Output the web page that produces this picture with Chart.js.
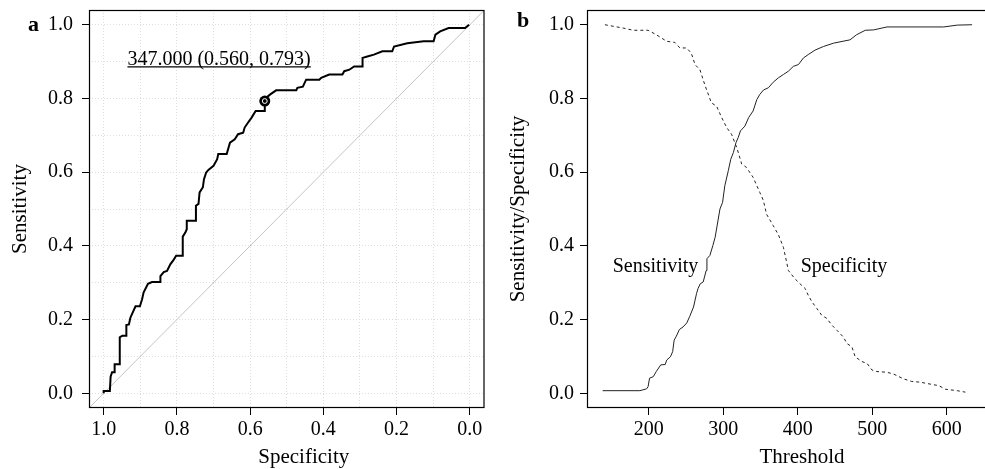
<!DOCTYPE html>
<html>
<head>
<meta charset="utf-8">
<script src="https://cdn.jsdelivr.net/npm/chart.js@4.4.1/dist/chart.umd.min.js"></script>
<style>
  html, body { margin: 0; padding: 0; background: #fff; overflow: hidden; }
  #wrap { position: relative; width: 985px; height: 469px; overflow: hidden; }
  canvas { position: absolute; top: 0; }
  #chartA { left: 0; }
  #chartB { left: 490px; }
</style>
</head>
<body>
<div id="wrap">
  <canvas id="chartA" width="490" height="469"></canvas>
  <canvas id="chartB" width="497" height="469"></canvas>
</div>
<script>
// panel a: ROC curve (stair corners)
const rocSpec = [1.0, 1.0, 0.983, 0.981, 0.977, 0.970, 0.970, 0.956, 0.956, 0.949, 0.938, 0.938, 0.931, 0.927, 0.913, 0.901,
  0.895, 0.891, 0.879, 0.868, 0.845, 0.845, 0.836, 0.827, 0.818, 0.809, 0.802, 0.786, 0.784, 0.784, 0.777, 0.773,
  0.773, 0.750, 0.748, 0.741, 0.738, 0.729, 0.726, 0.720, 0.714, 0.700, 0.690, 0.687, 0.664, 0.655, 0.642, 0.633,
  0.619, 0.615, 0.606, 0.596, 0.585, 0.560, 0.560, 0.556, 0.545, 0.529, 0.474, 0.471, 0.456, 0.447, 0.411, 0.406,
  0.384, 0.348, 0.343, 0.329, 0.316, 0.293, 0.293, 0.280, 0.262, 0.239, 0.212, 0.207, 0.171, 0.126, 0.099, 0.094,
  0.081, 0.058, 0.013, 0.002, 0.0];
const rocSens = [0.0, 0.006, 0.006, 0.045, 0.057, 0.057, 0.079, 0.079, 0.152, 0.156, 0.156, 0.185, 0.187, 0.205, 0.236, 0.236,
  0.255, 0.273, 0.297, 0.302, 0.302, 0.318, 0.329, 0.332, 0.350, 0.362, 0.373, 0.373, 0.391, 0.425, 0.436, 0.445,
  0.468, 0.468, 0.509, 0.514, 0.545, 0.559, 0.581, 0.599, 0.606, 0.617, 0.635, 0.649, 0.649, 0.680, 0.689, 0.703,
  0.707, 0.721, 0.734, 0.748, 0.766, 0.766, 0.793, 0.802, 0.811, 0.822, 0.822, 0.829, 0.832, 0.851, 0.851, 0.856,
  0.865, 0.865, 0.874, 0.878, 0.887, 0.887, 0.910, 0.914, 0.919, 0.928, 0.928, 0.941, 0.950, 0.955, 0.955, 0.973,
  0.982, 0.991, 0.991, 1.0, 1.0];
const bestThreshold = 347;
const bestSpec = 0.560;
const bestSens = 0.793;
const chanceLine = [1.04, -0.04];
const rocGrid = [0, 0.1, 0.2, 0.3, 0.4, 0.5, 0.6, 0.7, 0.8, 0.9, 1.0];
const rocLabels = [0, 0.2, 0.4, 0.6, 0.8, 1.0];

// panel b: sensitivity and specificity against threshold
const sensThr = [138, 188, 197, 199, 201, 206, 210, 216, 222, 224, 229, 232, 234, 237, 241, 246, 251, 255, 260, 264,
  266, 269, 273, 277, 278, 282, 286, 289, 295.5, 299, 302, 306.7, 310, 313.5, 317, 320, 323, 329, 334, 340,
  345, 349, 354, 360.5, 367, 374, 380.7, 387.4, 394, 400.9, 407.6, 414, 423, 434.5, 448, 470, 479, 490.6, 501.8, 519.7,
  596, 614, 634];
const sensVals = [0.007, 0.007, 0.012, 0.018, 0.041, 0.045, 0.059, 0.077, 0.078, 0.09, 0.099, 0.113, 0.144, 0.155, 0.173, 0.18, 0.191, 0.209, 0.234, 0.27,
  0.284, 0.297, 0.302, 0.333, 0.365, 0.374, 0.401, 0.423, 0.5, 0.518, 0.563, 0.604, 0.635, 0.653, 0.68, 0.694, 0.712, 0.725, 0.748, 0.766,
  0.797, 0.811, 0.823, 0.829, 0.844, 0.856, 0.865, 0.874, 0.887, 0.892, 0.91, 0.919, 0.931, 0.941, 0.95, 0.959, 0.973, 0.985, 0.986, 0.994,
  0.994, 0.999, 1.0];
const specThr = [141, 165.5, 179, 199, 210, 224, 235, 241.7, 250.7, 257, 262, 268.6, 275, 284, 291, 297.8, 304.5, 311, 318, 324.7,
  331, 340, 349, 353.8, 358, 367, 374, 380.7, 387.4, 396, 403, 410, 414, 419, 425.6, 432, 439, 445.7, 452.5, 461,
  466, 472.6, 477, 486, 493, 499.6, 506, 519.7, 528.7, 542, 553, 564.6, 582.5, 589, 598, 614, 625];
const specVals = [1.0, 0.991, 0.985, 0.985, 0.973, 0.955, 0.952, 0.937, 0.937, 0.923, 0.892, 0.878, 0.838, 0.788, 0.779, 0.748, 0.721, 0.703, 0.667, 0.622,
  0.613, 0.586, 0.545, 0.523, 0.486, 0.455, 0.43, 0.396, 0.333, 0.311, 0.297, 0.284, 0.266, 0.248, 0.23, 0.212, 0.203, 0.185, 0.171, 0.153,
  0.135, 0.126, 0.099, 0.086, 0.081, 0.063, 0.059, 0.057, 0.052, 0.039, 0.032, 0.03, 0.023, 0.021, 0.011, 0.007, 0.003];
const thrTicks = [200, 300, 400, 500, 600];
const probTicks = [0, 0.2, 0.4, 0.6, 0.8, 1.0];

Chart.defaults.font.family = "'Liberation Serif', 'DejaVu Serif', serif";
Chart.defaults.color = '#000';

const pairs = (xs, ys) => xs.map((v, i) => ({x: v, y: ys[i]}));

function drawBox(ctx, a){
    ctx.save();
    ctx.strokeStyle = '#000';
    ctx.lineWidth = 1.2;
    ctx.strokeRect(a.left + 0.5, a.top + 0.5, a.right - a.left - 1, a.bottom - a.top - 1);
    ctx.restore();
}

// keep chart area where it is, no extra room for edge labels
const fitX = h => s => { s.height = h; s.paddingLeft = 0; s.paddingRight = 0; };
const fitY = w => s => { s.width = w; s.paddingTop = 0; s.paddingBottom = 0; };

const decorA = {
    id: 'decorA',
    afterDraw(chart){
        const {ctx, chartArea, scales} = chart;
        drawBox(ctx, chartArea);
        ctx.save();
        // best threshold label, underlined
        const label = bestThreshold.toFixed(3) + ' (' + bestSpec.toFixed(3) + ', ' + bestSens.toFixed(3) + ')';
        ctx.font = "20px 'Liberation Serif'";
        ctx.fillStyle = '#000';
        ctx.textAlign = 'left';
        ctx.textBaseline = 'alphabetic';
        const lx = scales.x.getPixelForValue(0.935);
        const ly = scales.y.getPixelForValue(0.891);
        ctx.fillText(label, lx, ly);
        const w = ctx.measureText(label).width;
        ctx.beginPath();
        ctx.lineWidth = 1.3;
        ctx.moveTo(lx, ly + 2);
        ctx.lineTo(lx + w, ly + 2);
        ctx.stroke();
        // x title
        ctx.font = "21px 'Liberation Serif'";
        ctx.textAlign = 'center';
        ctx.fillText('Specificity', (chartArea.left + chartArea.right) / 2 + 17, 463);
        // panel letter
        ctx.font = "bold 22px 'Liberation Serif'";
        ctx.textAlign = 'left';
        ctx.fillText('a', 28, 31);
        ctx.restore();
    }
};

const decorB = {
    id: 'decorB',
    afterDraw(chart){
        const {ctx, chartArea, scales} = chart;
        drawBox(ctx, chartArea);
        ctx.save();
        ctx.fillStyle = '#000';
        ctx.font = "20px 'Liberation Serif'";
        ctx.textAlign = 'center';
        ctx.textBaseline = 'middle';
        ctx.fillText('Sensitivity', scales.x.getPixelForValue(209), scales.y.getPixelForValue(0.343));
        ctx.fillText('Specificity', scales.x.getPixelForValue(462), scales.y.getPixelForValue(0.343));
        ctx.textBaseline = 'alphabetic';
        ctx.font = "21px 'Liberation Serif'";
        ctx.fillText('Threshold', (chartArea.left + chartArea.right) / 2 + 15, 463);
        ctx.font = "bold 22px 'Liberation Serif'";
        ctx.textAlign = 'left';
        ctx.fillText('b', 27, 27);
        ctx.restore();
    }
};

function getChartA(){
    const ctx = document.getElementById('chartA').getContext('2d');
    const tickCol = c => rocLabels.includes(c.tick.value) ? '#000' : 'rgba(0,0,0,0)';
    const lab = v => rocLabels.includes(v) ? v.toFixed(1) : '';
    new Chart(ctx, {
        type: 'line',
        data: {
            datasets: [{
                label: 'chance',
                data: pairs(chanceLine, chanceLine.map(v => 1 - v)),
                borderColor: '#c4c4c4',
                borderWidth: 1,
                pointRadius: 0,
                order: 5
            }, {
                label: 'ROC',
                data: pairs(rocSpec, rocSens),
                borderColor: '#000',
                borderWidth: 2,
                pointRadius: 0,
                order: 2
            }, {
                label: 'best',
                data: [{x: bestSpec, y: bestSens}],
                showLine: false,
                pointRadius: 5.5,
                backgroundColor: '#000',
                borderColor: '#000',
                borderWidth: 0,
                order: 1
            }, {
                label: 'best inner',
                data: [{x: bestSpec, y: bestSens}],
                showLine: false,
                pointRadius: 2.4,
                backgroundColor: '#000',
                borderColor: '#fff',
                borderWidth: 1,
                order: 0
            }]
        },
        options: {
            responsive: false,
            animation: false,
            layout: {padding: {top: 10, right: 3, left: 0, bottom: 0}},
            plugins: {legend: {display: false}, tooltip: {enabled: false}},
            scales: {
                x: {
                    type: 'linear', reverse: true, min: -0.04, max: 1.04,
                    afterBuildTicks: s => { s.ticks = rocGrid.map(v => ({value: v})); },
                    afterFit: fitX(61),
                    ticks: {autoSkip: false, maxRotation: 0, padding: 3, font: {size: 20}, callback: lab},
                    grid: {color: '#dedede', tickLength: 7, tickColor: tickCol},
                    border: {display: false, dash: [1, 2]}
                },
                y: {
                    type: 'linear', min: -0.04, max: 1.04,
                    afterBuildTicks: s => { s.ticks = rocGrid.map(v => ({value: v})); },
                    afterFit: fitY(89),
                    ticks: {autoSkip: false, padding: 9, font: {size: 20}, callback: lab},
                    grid: {color: '#dedede', tickLength: 7, tickColor: tickCol},
                    border: {display: false, dash: [1, 2]},
                    title: {display: true, text: 'Sensitivity', font: {size: 21, lineHeight: 1}, padding: {top: 9.5, bottom: 0}}
                }
            }
        },
        plugins: [decorA]
    });
}

function getChartB(){
    const ctx = document.getElementById('chartB').getContext('2d');
    new Chart(ctx, {
        type: 'line',
        data: {
            datasets: [{
                label: 'Sensitivity',
                data: pairs(sensThr, sensVals),
                borderColor: '#222',
                borderWidth: 1,
                pointRadius: 0
            }, {
                label: 'Specificity',
                data: pairs(specThr, specVals),
                borderColor: '#222',
                borderWidth: 1,
                borderDash: [3, 3],
                pointRadius: 0
            }]
        },
        options: {
            responsive: false,
            animation: false,
            layout: {padding: {top: 10, right: 0, left: 0, bottom: 0}},
            plugins: {legend: {display: false}, tooltip: {enabled: false}},
            scales: {
                x: {
                    type: 'linear', min: 117, max: 654,
                    afterBuildTicks: s => { s.ticks = thrTicks.map(v => ({value: v})); },
                    afterFit: fitX(61),
                    ticks: {autoSkip: false, maxRotation: 0, padding: 3, font: {size: 20}},
                    grid: {drawOnChartArea: false, tickLength: 7, tickColor: '#000'},
                    border: {display: false}
                },
                y: {
                    type: 'linear', min: -0.04, max: 1.04,
                    afterBuildTicks: s => { s.ticks = probTicks.map(v => ({value: v})); },
                    afterFit: fitY(97),
                    ticks: {autoSkip: false, padding: 6, font: {size: 20}, callback: v => v.toFixed(1)},
                    grid: {drawOnChartArea: false, tickLength: 7, tickColor: '#000'},
                    border: {display: false},
                    title: {display: true, text: 'Sensitivity/Specificity', font: {size: 21, lineHeight: 1}, padding: {top: 18, bottom: 0}}
                }
            }
        },
        plugins: [decorB]
    });
}

getChartA();
getChartB();
</script>
</body>
</html>
